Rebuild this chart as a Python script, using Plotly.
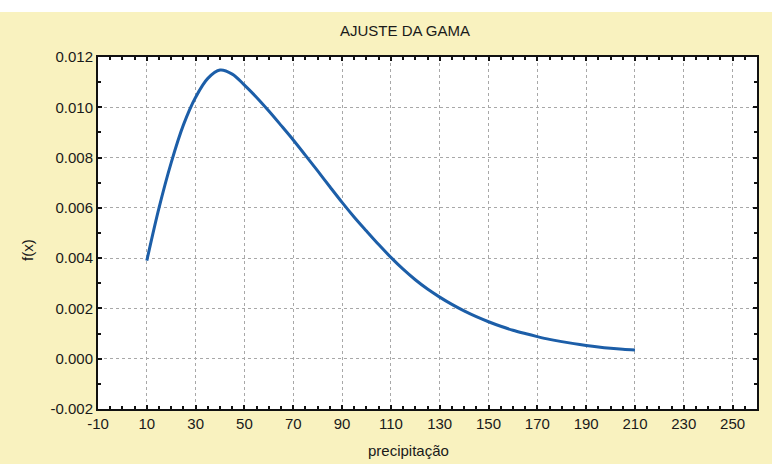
import plotly.graph_objects as go

# Data
precipitacao = [10, 15, 20, 25, 30, 35, 40, 45, 50, 55, 60, 65, 70, 75, 80, 85, 90,
                95, 100, 105, 110, 115, 120, 125, 130, 135, 140, 145, 150, 155,
                160, 165, 170, 175, 180, 185, 190, 195, 200, 205, 210]
fx = [0.0039, 0.0060, 0.0078, 0.0093, 0.0104, 0.01115, 0.01148, 0.01132, 0.01088,
      0.01039, 0.00985, 0.00928, 0.00870, 0.00809, 0.00747, 0.00684, 0.00622,
      0.00563, 0.00508, 0.00454, 0.00403, 0.00356, 0.00314, 0.00277, 0.00245,
      0.00216, 0.00190, 0.00167, 0.00147, 0.00129, 0.00113, 0.00100, 0.00088,
      0.00077, 0.00068, 0.00060, 0.00053, 0.00047, 0.00042, 0.00038, 0.00035]

x_ticks = [-10, 10, 30, 50, 70, 90, 110, 130, 150, 170, 190, 210, 230, 250]
y_ticks = [-0.002, 0.000, 0.002, 0.004, 0.006, 0.008, 0.010, 0.012]

W, H = 772, 464
L, R, T, B = 98, 15, 57, 55
ph = H - T - B
pw = W - L - R

FONT = "Liberation Sans, Arial"
TXT = "#1a1a1a"

fig = go.Figure()
fig.add_trace(go.Scatter(x=precipitacao, y=fx, mode="lines",
                         line=dict(color="#1c5ea8", width=3, shape="spline", smoothing=1),
                         showlegend=False, hoverinfo="skip"))

axis_common = dict(
    showline=True, linecolor="#111111", linewidth=2, mirror="ticks",
    ticks="inside", ticklen=4, tickcolor="#111111", tickwidth=1.5,
    showgrid=True, gridcolor="#a8a8a8", gridwidth=1, griddash="dot",
    zeroline=False,
    tickfont=dict(family=FONT, size=15, color=TXT),
)

fig.update_xaxes(range=[-10, 260], tickmode="array", tickvals=x_ticks,
                 ticktext=[str(v) for v in x_ticks],
                 minor=dict(dtick=5, tick0=-10, ticks="inside", ticklen=3,
                            tickcolor="#111111", showgrid=False),
                 **axis_common)
fig.update_yaxes(range=[-0.002, 0.012], tickmode="array", tickvals=y_ticks,
                 ticktext=[f"{v:.3f}" for v in y_ticks],
                 minor=dict(dtick=0.001, tick0=0, ticks="inside", ticklen=3,
                            tickcolor="#111111", showgrid=False),
                 **axis_common)


def px_x(p):
    return (p - L) / pw


def px_y(p):
    return (H - B - p) / ph


fig.update_layout(
    width=W, height=H,
    margin=dict(l=L, r=R, t=T, b=B),
    paper_bgcolor="#f9f2bf",
    plot_bgcolor="#ffffff",
    shapes=[dict(type="rect", xref="paper", yref="paper",
                 x0=px_x(0), x1=px_x(W), y0=px_y(12), y1=px_y(-2),
                 fillcolor="#ffffff", line=dict(width=0), layer="below")],
    annotations=[
        dict(text="AJUSTE DA GAMA", xref="paper", yref="paper",
             x=px_x(405), y=px_y(31), showarrow=False,
             xanchor="center", yanchor="middle",
             font=dict(family=FONT, size=15, color=TXT)),
        dict(text="precipitação", xref="paper", yref="paper",
             x=px_x(408), y=px_y(450), showarrow=False,
             xanchor="center", yanchor="middle",
             font=dict(family=FONT, size=15, color=TXT)),
        dict(text="f(x)", xref="paper", yref="paper",
             x=px_x(27), y=px_y(250), showarrow=False, textangle=-90,
             xanchor="center", yanchor="middle",
             font=dict(family=FONT, size=15, color=TXT)),
    ],
)

fig.write_html("out.html",
               config={"displayModeBar": False},
               post_script="document.body.style.margin='0';document.body.style.overflow='hidden';")
